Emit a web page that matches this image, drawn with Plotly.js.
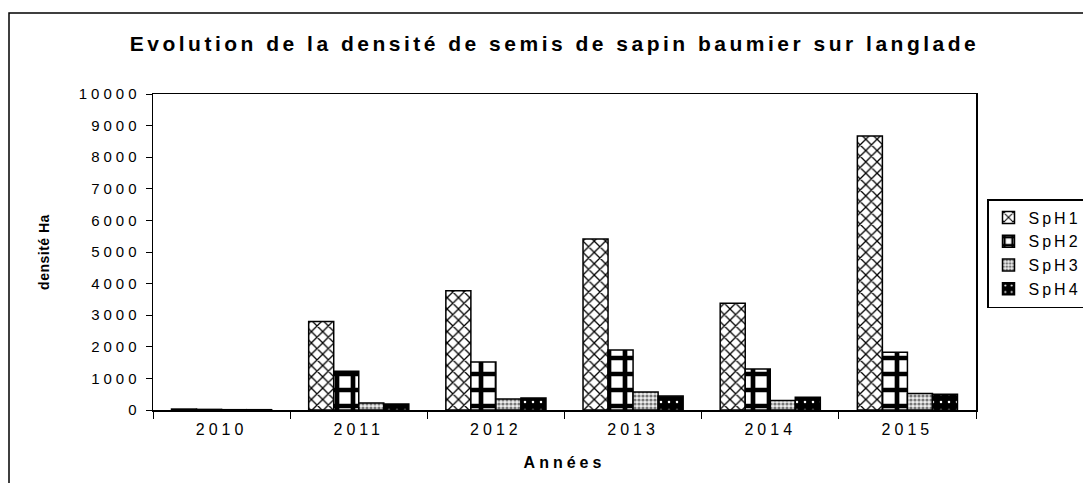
<!DOCTYPE html>
<html>
<head>
<meta charset="utf-8">
<script src="https://cdn.plot.ly/plotly-3.0.1.min.js"></script>
<style>
html, body { margin: 0; padding: 0; background: #fff; }
#chart { width: 1083px; height: 483px; }
svg text { letter-spacing: 4px; }
svg text.gtitle { letter-spacing: 3.5px; }
svg text.legendtext { letter-spacing: 3px; }
svg text.g-ytitle, svg .g-ytitle text { letter-spacing: 0.5px; }
</style>
</head>
<body>
<div id="chart"></div>
<script>
const years = ['2010', '2011', '2012', '2013', '2014', '2015'];
const sph1 = [30, 2800, 3770, 5410, 3380, 8670];
const sph2 = [20, 1230, 1520, 1900, 1300, 1830];
const sph3 = [10, 220, 350, 570, 300, 520];
const sph4 = [10, 190, 380, 440, 400, 500];
const seriesNames = ['SpH1', 'SpH2', 'SpH3', 'SpH4'];
const yTicks = [0, 1000, 2000, 3000, 4000, 5000, 6000, 7000, 8000, 9000, 10000];

const F = 'Liberation Sans, Arial, sans-serif';
const line = {color: '#000', width: 1.5};

const traces = [
  {name: seriesNames[0], y: sph1, pattern: {shape: 'x', fgcolor: '#000', bgcolor: '#fff', size: 8, solidity: 0.3, fillmode: 'replace'}},
  {name: seriesNames[1], y: sph2, pattern: {shape: '+', fgcolor: '#000', bgcolor: '#fff', size: 16, solidity: 0.5, fillmode: 'replace'}},
  {name: seriesNames[2], y: sph3, pattern: {shape: '.', fgcolor: '#777', bgcolor: '#eee', size: 4, solidity: 0.5, fillmode: 'replace'}},
  {name: seriesNames[3], y: sph4, pattern: {shape: '.', fgcolor: '#fff', bgcolor: '#000', size: 8, solidity: 0.08, fillmode: 'replace'}}
].map(t => ({
  type: 'bar', x: years, y: t.y, name: t.name,
  marker: {color: '#fff', line: line, pattern: t.pattern}
}));

const layout = {
  width: 1083, height: 483,
  margin: {l: 153, r: 107, t: 94, b: 73},
  paper_bgcolor: '#fff', plot_bgcolor: '#fff',
  barmode: 'group', bargap: 0.27, bargroupgap: 0,
  font: {family: F, color: '#000', size: 14},
  title: {text: 'Evolution de la densité de semis de sapin baumier sur langlade',
          font: {family: F, size: 21, weight: 'bold', color: '#000'},
          xref: 'container', x: 0.512, xanchor: 'center',
          yref: 'container', y: 0.909, yanchor: 'middle'},
  xaxis: {type: 'category', showline: true, linecolor: '#000', linewidth: 1.5, mirror: true,
          ticks: 'outside', tickson: 'boundaries', ticklen: 7, tickcolor: '#000',
          ticklabelstandoff: 4,
          tickfont: {family: F, size: 16}, showgrid: false, zeroline: false,
          title: {text: 'Années', font: {family: F, size: 16, weight: 'bold'}, standoff: 20}},
  yaxis: {range: [0, 10000], tickvals: yTicks, ticktext: yTicks.map(String),
          showline: true, linecolor: '#000', linewidth: 1.5, mirror: true,
          ticks: 'outside', ticklen: 6, tickcolor: '#000', showgrid: false, zeroline: false,
          ticklabelstandoff: 2,
          tickfont: {family: F, size: 15},
          title: {text: 'densité Ha', font: {family: F, size: 14, weight: 'bold'}, standoff: 26}},
  legend: {xref: 'container', x: 987 / 1083, xanchor: 'left',
           yref: 'container', y: 1 - 199 / 483, yanchor: 'top',
           bordercolor: '#000', borderwidth: 1.5, bgcolor: '#fff', itemwidth: 30,
           font: {family: F, size: 16}, tracegroupgap: 0},
  shapes: [{type: 'rect', xref: 'paper', yref: 'paper',
            x0: (9 - 153) / 823, x1: (1095 - 153) / 823,
            y0: (410 - 495) / 316, y1: 1 + (94 - 13) / 316,
            line: {color: '#000', width: 1.5}, fillcolor: 'rgba(0,0,0,0)'}]
};

Plotly.newPlot('chart', traces, layout, {displayModeBar: false, staticPlot: true});
</script>
</body>
</html>
